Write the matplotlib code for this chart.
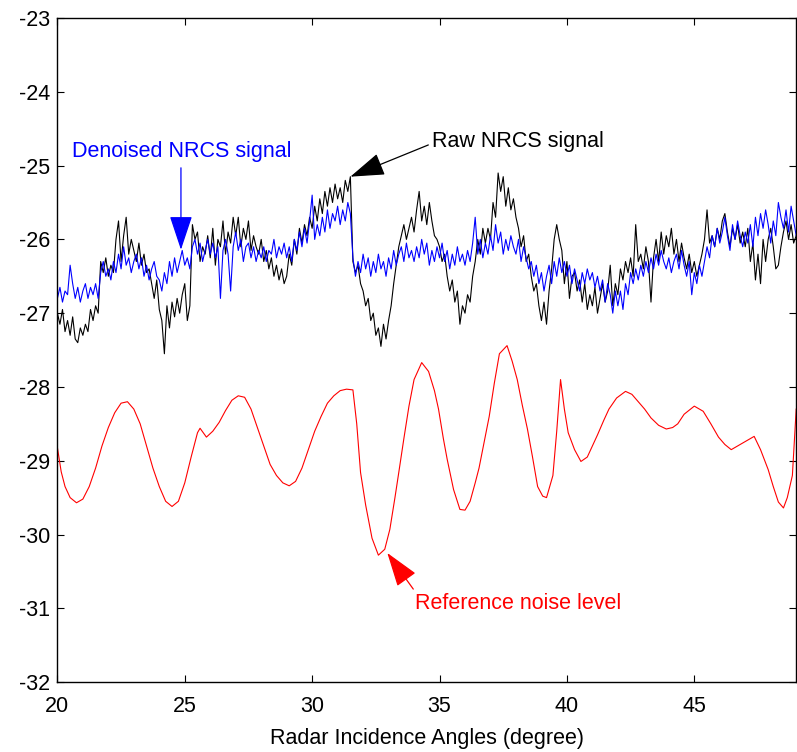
import numpy as np
import matplotlib
matplotlib.use('Agg')
import matplotlib.pyplot as plt

plt.rcParams['font.family'] = ['Liberation Sans', 'DejaVu Sans']
plt.rcParams['axes.unicode_minus'] = False

# incidence angle grid of the noisy signals (0.1 deg)
angles = np.round(np.arange(20.0, 49.01, 0.1), 2)

# raw NRCS (black)
raw_nrcs = [
    -27.0, -27.15, -26.95, -27.25, -27.1, -27.3, -27.05, -27.35, -27.4, -27.2,
    -27.3, -27.15, -27.25, -26.95, -27.1, -26.9, -27.0, -26.3, -26.45, -26.25,
    -26.5, -26.35, -26.45, -26.0, -25.75, -26.3, -25.95, -25.7, -26.2, -26.0,
    -26.15, -26.3, -26.05, -26.35, -26.2, -26.45, -26.4, -26.6, -26.8, -26.55,
    -26.95, -27.1, -27.55, -26.9, -27.2, -26.85, -27.05, -26.8, -27.0, -26.75,
    -26.6, -27.1, -26.9, -25.8, -26.0, -25.9, -26.3, -26.1, -26.2, -25.95,
    -26.25, -25.85, -26.35, -26.0, -26.1, -25.75, -26.2, -25.9, -26.05, -25.7,
    -25.95, -25.7, -26.1, -25.85, -26.0, -25.75, -26.15, -25.95, -26.1, -26.2,
    -26.0, -26.3, -26.15, -26.4, -26.25, -26.5, -26.35, -26.55, -26.4, -26.6,
    -26.5, -26.2, -26.35, -26.0, -26.2, -25.85, -26.05, -25.8, -25.95, -25.7,
    -25.85, -25.55, -25.75, -25.45, -25.65, -25.35, -25.55, -25.3, -25.5, -25.25,
    -25.45, -25.3, -25.5, -25.2, -25.35, -25.15, -26.3, -26.45, -26.35, -26.6,
    -26.7, -26.9, -26.8, -27.1, -27.0, -27.3, -27.2, -27.45, -27.15, -27.35,
    -27.1, -26.9, -26.6, -26.35, -26.1, -25.95, -25.8, -26.0, -25.85, -25.7,
    -25.9, -25.6, -25.35, -25.75, -25.55, -25.8, -25.5, -25.75, -25.95, -26.0,
    -26.1, -26.3, -26.2, -26.5, -26.7, -26.55, -26.85, -26.7, -27.15, -26.9,
    -27.0, -26.75, -26.85, -26.5, -26.3, -26.0, -26.2, -25.85, -26.05, -25.85,
    -26.0, -25.5, -25.7, -25.1, -25.35, -25.15, -25.55, -25.3, -25.6, -25.45,
    -25.7, -25.85, -26.1, -25.95, -26.3, -26.2, -26.5, -26.7, -26.6, -26.9,
    -27.1, -26.85, -27.15, -26.7, -26.4, -26.0, -25.8, -26.0, -26.15, -26.6,
    -26.3, -26.8, -26.5, -26.45, -26.7, -26.55, -26.85, -26.6, -26.95, -26.75,
    -26.9, -26.65, -27.0, -26.8, -26.6, -26.85, -26.7, -26.35, -26.9, -26.6,
    -26.75, -26.4, -26.55, -26.3, -26.45, -26.25, -26.5, -25.8, -26.3, -26.2,
    -26.4, -26.1, -26.3, -26.85, -26.25, -26.0, -26.3, -25.9, -26.2, -25.95,
    -26.1, -25.85, -26.2, -26.0, -26.3, -26.05, -26.25, -26.4, -26.2, -26.45,
    -26.3, -26.5, -26.35, -26.2, -26.0, -25.6, -26.05, -25.95, -26.1, -25.85,
    -26.0, -25.75, -25.65, -25.9, -26.1, -25.85, -26.0, -25.8, -26.05, -25.9,
    -26.1, -25.85, -26.3, -26.05, -26.55, -26.2, -26.6, -26.0, -26.3, -26.0,
    -25.85, -26.1, -26.4, -26.35, -26.1, -25.9, -25.75, -26.0, -25.8, -26.05,
    -25.95,
]

# denoised NRCS (blue)
denoised_nrcs = [
    -26.8, -26.65, -26.85, -26.7, -26.75, -26.35, -26.6, -26.8, -26.65, -26.85,
    -26.7, -26.6, -26.8, -26.65, -26.75, -26.6, -26.8, -26.45, -26.3, -26.5,
    -26.4, -26.55, -26.3, -26.45, -26.2, -26.4, -26.1, -26.35, -26.25, -26.45,
    -26.3, -26.2, -26.4, -26.25, -26.5, -26.35, -26.55, -26.4, -26.3, -26.5,
    -26.55, -26.7, -26.45, -26.6, -26.3, -26.5, -26.25, -26.45, -26.3, -26.15,
    -26.35, -26.25, -26.4, -26.1, -26.0, -26.2, -26.05, -26.3, -26.15, -26.0,
    -26.2, -26.05, -26.25, -26.1, -26.8, -26.15, -26.0, -26.2, -26.7, -26.1,
    -25.9, -26.15, -26.0, -26.3, -26.1, -26.05, -26.25, -26.1, -26.3, -26.15,
    -26.25, -26.1, -26.3, -26.15, -26.2, -26.0, -26.25, -26.1, -26.2, -26.05,
    -26.25, -26.1, -26.3, -26.0, -26.15, -25.9, -26.1, -25.85, -26.05, -25.75,
    -25.4, -26.0, -25.8, -25.95, -25.7, -25.9, -25.6, -25.85, -25.65, -25.75,
    -25.55, -25.8, -25.6, -25.75, -25.5, -25.65, -26.25, -26.5, -26.3, -26.45,
    -26.2, -26.4, -26.25, -26.5, -26.3, -26.45, -26.2, -26.4, -26.3, -26.5,
    -26.25, -26.4, -26.15, -26.35, -26.2, -26.1, -26.3, -26.05, -26.25, -26.15,
    -26.3, -26.1, -26.25, -26.0, -26.2, -26.05, -26.35, -26.15, -26.3, -26.1,
    -26.25, -26.05, -26.3, -26.15, -26.4, -26.2, -26.35, -26.1, -26.3, -26.2,
    -26.35, -26.15, -26.3, -26.05, -25.7, -26.2, -26.0, -26.25, -26.05, -26.2,
    -25.95, -26.15, -25.8, -26.05, -25.9, -26.2, -26.0, -26.15, -25.95, -26.1,
    -26.2, -26.0, -26.3, -26.1, -26.25, -26.4, -26.3, -26.5, -26.35, -26.6,
    -26.45, -26.7, -26.5, -26.35, -26.6, -26.3, -26.5, -26.25, -26.45, -26.3,
    -26.5, -26.35, -26.6, -26.4, -26.55, -26.7, -26.45, -26.6, -26.4, -26.55,
    -26.45, -26.65, -26.5, -26.7, -26.55, -26.85, -26.6, -26.75, -27.0, -26.7,
    -26.9, -26.7, -26.95, -26.6, -26.75, -26.45, -26.6, -26.4, -26.55, -26.35,
    -26.5, -26.3, -26.45, -26.25, -26.4, -26.2, -26.35, -26.15, -26.3, -26.4,
    -26.25, -26.45, -26.3, -26.2, -26.4, -26.15, -26.35, -26.5, -26.3, -26.75,
    -26.45, -26.6, -26.35, -26.5, -26.3, -26.1, -26.25, -25.95, -26.1, -25.85,
    -26.05, -25.9, -25.7, -25.95, -26.15, -25.8, -26.0, -25.75, -25.95, -26.1,
    -25.9, -26.05, -25.8, -26.1, -25.7, -25.95, -25.65, -25.85, -25.6, -25.8,
    -26.05, -25.75, -25.95, -25.5, -25.7, -25.85, -25.6, -25.9, -25.55, -25.75,
    -25.95,
]

# reference noise level (red), smooth so read at breakpoints
noise_angle = [
    20.0, 20.15, 20.3, 20.5, 20.75, 21.0, 21.25, 21.5, 21.75, 22.0, 22.25, 22.5,
    22.75, 23.0, 23.25, 23.5, 23.75, 24.0, 24.25, 24.5, 24.75, 25.0, 25.25, 25.5,
    25.6, 25.85, 26.1, 26.35, 26.6, 26.85, 27.1, 27.35, 27.6, 27.85, 28.1, 28.35,
    28.6, 28.85, 29.1, 29.35, 29.6, 29.85, 30.1, 30.35, 30.6, 30.85, 31.1, 31.35,
    31.6, 31.75, 31.9, 32.1, 32.35, 32.6, 32.85, 33.05, 33.25, 33.4, 33.6, 33.8,
    34.0, 34.3, 34.57, 34.8, 34.96, 35.15, 35.3, 35.55, 35.8, 36.0, 36.2, 36.4,
    36.55, 36.75, 36.95, 37.15, 37.35, 37.65, 37.85, 38.05, 38.25, 38.45, 38.65,
    38.85, 39.05, 39.2, 39.45, 39.6, 39.75, 39.9, 40.05, 40.3, 40.55, 40.8, 41.0,
    41.2, 41.45, 41.65, 41.95, 42.3, 42.55, 42.8, 43.05, 43.3, 43.6, 43.9, 44.15,
    44.35, 44.6, 45.0, 45.35, 45.65, 45.95, 46.2, 46.45, 46.8, 47.1, 47.35, 47.6,
    47.9, 48.1, 48.3, 48.5, 48.65, 48.85, 49.0,
]
noise_level = [
    -28.82, -29.15, -29.35, -29.5, -29.57, -29.52, -29.35, -29.1, -28.8, -28.55,
    -28.35, -28.22, -28.2, -28.3, -28.5, -28.8, -29.1, -29.35, -29.55, -29.62,
    -29.55, -29.3, -28.95, -28.62, -28.56, -28.68, -28.6, -28.48, -28.32, -28.18,
    -28.12, -28.14, -28.3, -28.55, -28.8, -29.05, -29.2, -29.3, -29.34, -29.28,
    -29.1, -28.85, -28.6, -28.4, -28.22, -28.12, -28.05, -28.03, -28.04, -28.5,
    -29.16, -29.6, -30.05, -30.28, -30.2, -29.93, -29.5, -29.16, -28.7, -28.26,
    -27.9, -27.67, -27.79, -28.05, -28.3, -28.7, -28.98, -29.39, -29.66, -29.67,
    -29.55, -29.3, -29.1, -28.75, -28.4, -27.95, -27.55, -27.44, -27.65, -27.9,
    -28.25, -28.57, -28.95, -29.35, -29.48, -29.5, -29.2, -28.6, -27.9, -28.3,
    -28.62, -28.85, -29.01, -28.95, -28.8, -28.65, -28.45, -28.3, -28.15, -28.06,
    -28.1, -28.2, -28.3, -28.42, -28.52, -28.57, -28.55, -28.5, -28.37, -28.26,
    -28.33, -28.5, -28.68, -28.78, -28.85, -28.78, -28.72, -28.67, -28.85, -29.12,
    -29.35, -29.56, -29.64, -29.5, -29.2, -28.3,
]

fig = plt.figure(figsize=(7.97, 7.52), dpi=100)
ax = fig.add_axes([0.072, 0.093, 0.927, 0.883])

ax.plot(angles, raw_nrcs, color='black', lw=0.8)
ax.plot(angles, denoised_nrcs, color='blue', lw=0.8)
ax.plot(noise_angle, noise_level, color='red', lw=0.8)

ax.set_xlim(20, 49)
ax.set_ylim(-32, -23)
ax.set_xticks([20, 25, 30, 35, 40, 45])
ax.set_yticks(np.arange(-32, -22, 1))
ax.tick_params(direction='in', length=5, width=0.8, top=True, right=True,
               labelsize=15.5)
ax.tick_params(axis='x', pad=10)
ax.tick_params(axis='y', pad=5)
for s in ax.spines.values():
    s.set_linewidth(1.0)
ax.set_xlabel('Radar Incidence Angles (degree)', fontsize=15.5, labelpad=8)

ax.annotate('', xy=(24.85, -26.14), xytext=(24.85, -25.03),
            arrowprops=dict(arrowstyle='-|>,head_length=1.2,head_width=0.4',
                            color='blue', lw=0.9, mutation_scale=18,
                            shrinkA=0, shrinkB=0))
ax.text(20.57, -24.81, 'Denoised NRCS signal', color='blue',
        fontsize=15.5, va='center', ha='left')

ax.annotate('', xy=(31.5, -25.15), xytext=(34.56, -24.72),
            arrowprops=dict(arrowstyle='-|>,head_length=1.2,head_width=0.4',
                            color='black', lw=0.9, mutation_scale=18,
                            shrinkA=0, shrinkB=0))
ax.text(34.72, -24.68, 'Raw NRCS signal', color='black',
        fontsize=15.5, va='center', ha='left')

ax.annotate('', xy=(32.95, -30.25), xytext=(33.97, -30.74),
            arrowprops=dict(arrowstyle='-|>,head_length=1.2,head_width=0.4',
                            color='red', lw=0.9, mutation_scale=18,
                            shrinkA=0, shrinkB=0))
ax.text(34.05, -30.94, 'Reference noise level', color='red',
        fontsize=15.5, va='center', ha='left')

fig.savefig('out.png', dpi=100)
